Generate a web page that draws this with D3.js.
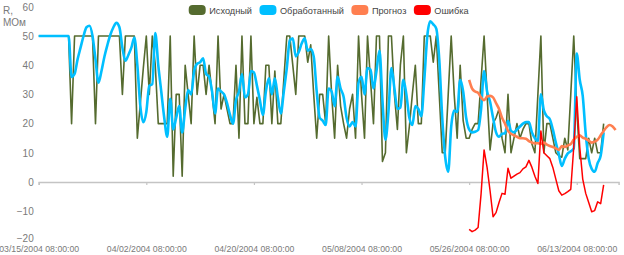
<!DOCTYPE html>
<html>
<head>
<meta charset="utf-8">
<script src="https://cdn.jsdelivr.net/npm/d3@7"></script>
<style>
  body { margin: 0; background: #fff; }
  svg text { font-family: 'Liberation Sans', Arial, sans-serif; }
</style>
</head>
<body>
<div class="canvas"></div>
<script>
// series names + colours (legend order)
const seriesNames = ['Исходный', 'Обработанный', 'Прогноз', 'Ошибка'];
const seriesColors = ['#556b2f', '#00bfff', '#ff7f50', '#ff0000'];

// time grid: one point every 12 hours from the first date
const startTime = '03/15/2004 08:00:00';
const stepHours = 12;
const forecastStart = 144; // index where forecast and error begin

const tickLabels = ['03/15/2004 08:00:00', '04/02/2004 08:00:00', '04/20/2004 08:00:00',
  '05/08/2004 08:00:00', '05/26/2004 08:00:00', '06/13/2004 08:00:00'];
const yTicks = [-20, -10, 0, 10, 20, 30, 40, 50, 60];

// Исходный
const source = [
  50,50,50,50,50,50,50,50,50,50,50,
  20,
  50,50,50,50,50,50,50,
  20,
  50,50,50,50,50,50,50,50,
  30,
  50,50,50,50,
  15,27,39,50,30,50,40,20,20,20,
  20,50,2,30,30,2,40,30,20,50,
  30,40,40,30,40,30,20,50,25,30,
  25,20,20,40,15,50,20,20,50,20,
  29,20,20,40,40,20,38,20,20,35,
  50,50,40,30,50,50,50,41,47,30,
  15,30,30,20,50,30,15,40,26,20,
  15,25,30,15,50,30,15,50,35,20,
  50,50,7,10,50,50,30,18,40,50,
  10,19,30,40,20,20,50,50,50,41,
  50,30,10,10,30,50,30,15,40,21,
  15,15,18,20,20,35,50,30,11,20,
  22,25,15,10,30,10,15,20,15,18,
  20,20,13,10,30,50,10,20,20,15,
  10,9,8.5,15,11,30,50,25,8,8,
  8,15,10,15,10,10,20
];

// Обработанный
const processed = [
  50,50,50,50,50,50,50,50,50,50,50,
  36,37,42,46,50,53,53.5,50,42,34,
  38,43,47,50.5,53,54.5,53,46,41.5,43.5,
  46,49.5,40,26,20.5,24,33,33.5,51,40,
  31,22,15.5,28.5,18,22,26,17,25,31.5,
  30,38,40.5,41,42.4,37,36,31,23.5,32,
  31,30,27,23,20,28,31,37,29,30,
  38,37.5,33,28,23,31,35.5,30,35.5,29,
  23.5,31,39,48.5,49.2,43,44.5,47.5,49.2,45,
  45.5,43,31,22,21,19.5,32,31,26,36,
  32,29.2,22,19,20.5,19,34,36,30,39,
  38.5,32,38,45,28,14.5,24,39,32,25,
  25.5,35,30,22,19.5,26,25,22.5,35,50,
  55,54,52.5,42,22,8.5,3.5,19,24.5,24,
  35,31,22,18,17,17.2,17.8,25,38,31,
  27.5,22,17,15.5,16.5,16.7,21,17.5,17,18,
  19,20,20.5,20.5,17,15,14,30,24.5,22.5,
  21.5,18,13.5,9.5,5.5,8,9.8,10.5,11.5,44,
  35,29.5,16.5,8,4.5,3.5,6.5,9,17
];

// Прогноз
const forecast = [
  35,32,31,30.5,29,28,29.2,29.5,29,27,
  25,22,20,17.5,16.5,16,15.5,15,15,14.8,
  14,13.5,13.2,13.3,13,13.5,12.8,12.3,12,11.5,
  11,12.3,12,12.5,13,14.5,15.5,16,15.2,14.8,
  14.2,13.5,13.8,14.5,16,17.5,18.8,19.5,19,17.8
];

// Ошибка
const error = [
  -16.2,-17,-16.5,-15.6,-4,11,5,-3,-11.9,-10.5,
  -7,-3.9,-4.2,4.7,1.3,2,2.7,3.2,4.5,5.2,
  7.4,5,2,-0.5,17.5,10,9,8,5,1,
  -3,-4.5,-4,-3.3,-2.5,12,29.2,12,1,-3.9,
  -7,-10.2,-9.8,-6.8,-7.4,-1
];

const svg = d3.select('.canvas')
  .append('svg')
    .attr('width', 624)
    .attr('height', 255);

const parse = d3.utcParse('%m/%d/%Y %H:%M:%S');
const fmt = d3.utcFormat('%m/%d/%Y %H:%M:%S');
const t0 = parse(startTime);
const timeAt = i => d3.utcHour.offset(t0, i * stepHours);

const x = d3.scaleUtc()
  .domain([t0, d3.utcDay.offset(t0, 97)])
  .range([38.7, 618.6]);
const y = d3.scaleLinear()
  .domain([-20, 60])
  .range([240.4, 6.8]);

// x axis sits on the zero line, labels pushed to the bottom
const xAxis = d3.axisBottom(x)
  .tickValues(tickLabels.map(parse))
  .tickFormat(fmt)
  .tickSizeInner(3)
  .tickSizeOuter(3);
const xAxisGroup = svg.append('g')
  .attr('transform', `translate(0, ${y(0)})`)
  .call(xAxis);
xAxisGroup.select('.domain').attr('stroke', '#c4c4c4').attr('stroke-width', 1.5);
xAxisGroup.selectAll('line').attr('stroke', '#c4c4c4').attr('stroke-width', 1.2);
xAxisGroup.selectAll('text')
  .attr('y', 64)
  .attr('fill', '#7a7a7a')
  .style('font-size', '9px')
  .attr('textLength', 80)
  .attr('lengthAdjust', 'spacingAndGlyphs');

// y axis: labels only
const yAxis = d3.axisLeft(y)
  .tickValues(yTicks)
  .tickSize(0)
  .tickPadding(5);
const yAxisGroup = svg.append('g')
  .attr('transform', `translate(${x.range()[0]}, 0)`)
  .call(yAxis);
yAxisGroup.select('.domain').remove();
yAxisGroup.selectAll('text')
  .attr('fill', '#7a7a7a')
  .style('font-size', '10px');
// lift the lowest label a touch so it clears the date below it
yAxisGroup.selectAll('text')
  .filter(d => d === -20)
  .attr('dy', '0.12em');

// axis title
const title = svg.append('text')
  .attr('fill', '#7a7a7a')
  .style('font-size', '10px');
title.append('tspan').attr('x', 3).attr('y', 14).text('R,');
title.append('tspan').attr('x', 3).attr('y', 26).text('МОм');

// lines
const points = (vals, offset) => vals.map((v, i) => ({ t: timeAt(i + offset), v }));
const series = [
  { data: points(source, 0), curve: d3.curveLinear, width: 1.6 },
  { data: points(processed, 0), curve: d3.curveMonotoneX, width: 2.6 },
  { data: points(forecast, forecastStart), curve: d3.curveMonotoneX, width: 2.6 },
  { data: points(error, forecastStart), curve: d3.curveLinear, width: 1.5 }
];

series.forEach((s, k) => {
  const line = d3.line()
    .x(d => x(d.t))
    .y(d => y(d.v))
    .curve(s.curve);
  svg.append('path')
    .datum(s.data)
    .attr('fill', 'none')
    .attr('stroke', seriesColors[k])
    .attr('stroke-width', s.width)
    .attr('stroke-linejoin', 'round')
    .attr('d', line);
});

// legend, centred over the plot
const legend = svg.append('g');
const items = legend.selectAll('g')
  .data(seriesNames)
  .enter()
  .append('g');
items.append('rect')
  .attr('width', 17)
  .attr('height', 10)
  .attr('rx', 4)
  .attr('y', 5)
  .attr('fill', (d, i) => seriesColors[i]);
items.append('text')
  .attr('x', 20.5)
  .attr('y', 13.5)
  .attr('fill', '#444')
  .style('font-size', '9.2px')
  .text(d => d);

let offset = 0;
items.each(function () {
  const w = d3.select(this).select('text').node().getComputedTextLength();
  d3.select(this).attr('transform', `translate(${offset}, 0)`);
  offset += 20.5 + w + 7.5;
});
const legendWidth = offset - 7.5;
const plotMid = (x.range()[0] + x.range()[1]) / 2;
legend.attr('transform', `translate(${plotMid - legendWidth / 2}, 0)`);
</script>
</body>
</html>
